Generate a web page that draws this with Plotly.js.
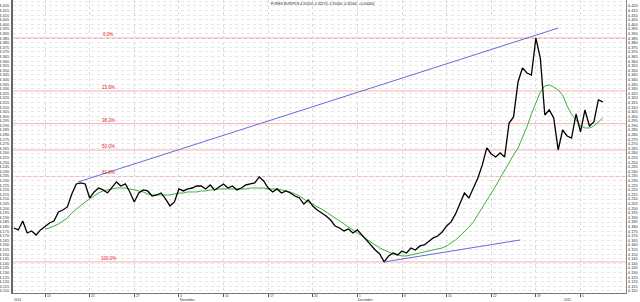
<!DOCTYPE html>
<html><head><meta charset="utf-8">
<script src="https://cdn.plot.ly/plotly-3.0.1.min.js"></script>
<style>html,body{margin:0;padding:0;background:#fff;}#chart{width:640px;height:302px;}</style>
</head><body><div id="chart"></div>
<script>
// Price series (half-day steps, trading days), EUR/PLN
const priceValues = [4.1785,4.1764,4.1861,4.1731,4.1753,4.1709,4.1764,
4.1807,4.1840,4.1861,4.1959,4.1981,4.2014,4.2155,4.2264,4.2275,4.2264,
4.2112,4.2177,4.2220,4.2199,4.2166,4.2220,4.2286,4.2242,4.2264,4.2177,
4.2068,4.2166,4.2199,4.2188,4.2133,4.2144,4.2166,4.2101,4.2025,4.2068,
4.2210,4.2188,4.2210,4.2220,4.2242,4.2242,4.2210,4.2253,4.2199,4.2231,
4.2264,4.2220,4.2242,4.2199,4.2220,4.2253,4.2264,4.2275,4.2340,4.2297,
4.2220,4.2177,4.2210,4.2166,4.2188,4.2166,4.2133,4.2112,4.2046,4.2090,
4.2025,4.1981,4.1949,4.1916,4.1872,4.1807,4.1785,4.1753,4.1774,4.1731,
4.1764,4.1709,4.1644,4.1590,4.1546,4.1503,4.1416,4.1481,4.1513,4.1492,
4.1535,4.1513,4.1568,4.1546,4.1590,4.1600,4.1644,4.1677,4.1698,4.1742,
4.1807,4.1851,4.1938,4.2057,4.2166,4.2112,4.2220,4.2329,4.2471,4.2656,
4.2590,4.2558,4.2601,4.2558,4.2927,4.2993,4.3373,4.3526,4.3471,4.3449,
4.3850,4.3634,4.3014,4.3069,4.2982,4.2634,4.2851,4.2786,4.2764,4.3025,
4.2830,4.3069,4.2895,4.2938,4.3178,4.3156];
// Moving average (starts 7 half-days later)
const maValues = [null,null,null,null,null,null,null,
4.1774,4.1785,4.1807,4.1829,4.1861,4.1894,4.1949,4.1992,4.2036,4.2068,
4.2101,4.2133,4.2166,4.2188,4.2199,4.2210,4.2220,4.2220,4.2220,4.2210,
4.2199,4.2188,4.2177,4.2155,4.2144,4.2144,4.2144,4.2144,4.2144,4.2155,
4.2166,4.2166,4.2177,4.2177,4.2177,4.2188,4.2188,4.2199,4.2199,4.2210,
4.2210,4.2210,4.2210,4.2210,4.2210,4.2210,4.2220,4.2220,4.2220,4.2220,
4.2210,4.2210,4.2210,4.2199,4.2188,4.2177,4.2155,4.2133,4.2101,4.2068,
4.2046,4.2014,4.1992,4.1959,4.1927,4.1894,4.1861,4.1829,4.1796,4.1764,
4.1731,4.1698,4.1666,4.1633,4.1600,4.1568,4.1546,4.1524,4.1503,4.1492,
4.1481,4.1481,4.1492,4.1503,4.1513,4.1524,4.1535,4.1546,4.1557,4.1568,
4.1590,4.1622,4.1655,4.1698,4.1742,4.1796,4.1851,4.1927,4.2003,4.2079,
4.2166,4.2242,4.2329,4.2416,4.2503,4.2579,4.2656,4.2764,4.2884,4.3025,
4.3145,4.3265,4.3330,4.3341,4.3319,4.3286,4.3232,4.3112,4.3025,4.2960,
4.2895,4.2873,4.2873,4.2895,4.2938,4.2982];
// Trend lines
const upperTrendX = ['2014-10-16 16:48','2014-12-31 12:00'];
const upperTrendY = [4.2286, 4.3960];
const lowerTrendX = ['2014-12-04 00:00','2014-12-25 06:00'];
const lowerTrendY = [4.1416, 4.1655];
// Fibonacci retracement
const fibHigh = 4.3850, fibLow = 4.1416;
const fibRatios = [0, 0.236, 0.382, 0.5, 0.618, 1.0];
const fibLabels = ['0.0%','23.6%','38.2%','50.0%','61.8%','100.0%'];
// X axis weekly ticks and labels
const weekTicks = ['2014-10-13','2014-10-20','2014-10-27','2014-11-03','2014-11-10','2014-11-17','2014-11-24','2014-12-01','2014-12-08','2014-12-15','2014-12-22','2014-12-29','2015-01-05'];
const weekLabels = ['13','20','27','3','10','17','24','1','8','15','22','29','5'];
const monthLabelX = ['2014-10-07 10:00','2014-11-03','2014-12-01','2015-01-01'];
const monthLabels = ['2014','November','December','2015'];
const titleText = 'FOREX EUR/PLN 4.31050; 4.32270; 4.31000; 4.31560; +0.00040)';

function tradingDates(startMs, n){
  const out=[]; let t=startMs;
  while(out.length<n){
    const d=new Date(t); const wd=d.getUTCDay();
    if(wd!==0 && wd!==6) out.push(d.toISOString().slice(0,16).replace('T',' '));
    t+=12*3600*1000;
  }
  return out;
}
const dates = tradingDates(Date.UTC(2014,9,7,12,0), priceValues.length);

const traces = [
  {x:dates,y:maValues,type:'scatter',mode:'lines',line:{color:'#3cb03c',width:1},hoverinfo:'skip',connectgaps:false},
  {x:dates,y:priceValues,type:'scatter',mode:'lines',line:{color:'#000',width:1.3}},
  {x:upperTrendX,y:upperTrendY,type:'scatter',mode:'lines',line:{color:'#6a6ad8',width:1}},
  {x:lowerTrendX,y:lowerTrendY,type:'scatter',mode:'lines',line:{color:'#6a6ad8',width:1}},
  {x:[dates[0]],y:[null],yaxis:'y2',type:'scatter',mode:'lines',hoverinfo:'skip'}
];

const yr=[4.1078,4.4265];
const shapes=[], annotations=[];
fibRatios.forEach((r,i)=>{
  const lv = fibHigh - r*(fibHigh-fibLow);
  shapes.push({type:'line',layer:'below',xref:'paper',x0:0,x1:1,yref:'y',y0:lv,y1:lv,line:{color:i===0?'#f08a8a':'#f6b0b0',width:1}});
  annotations.push({xref:'paper',x:0.155,yref:'y',y:lv,text:fibLabels[i],showarrow:false,yanchor:'bottom',xanchor:'center',borderpad:0,font:{size:4.5,color:'#e02020',family:'Arial, Liberation Sans'},yshift:0});
});
weekTicks.forEach((t,i)=>{
  annotations.push({xref:'x',x:t,yref:'paper',y:0,yanchor:'top',xanchor:'left',text:weekLabels[i],showarrow:false,borderpad:0,font:{size:3.2,color:'#333'},xshift:0.5,yshift:0});
});
monthLabelX.forEach((t,i)=>{
  annotations.push({xref:'x',x:t,yref:'paper',y:0,yanchor:'top',xanchor:'left',text:monthLabels[i],showarrow:false,borderpad:0,font:{size:3.2,color:'#333'},yshift:-4});
});
annotations.push({xref:'paper',x:0.505,yref:'paper',y:1,yanchor:'top',xanchor:'center',text:titleText,showarrow:false,borderpad:0,font:{size:3.5,color:'#222'},yshift:-1});

const layout={
  width:640,height:302,margin:{l:13,r:14,t:0,b:9},
  paper_bgcolor:'#fff',plot_bgcolor:'#fff',showlegend:false,
  font:{family:'Arial, Liberation Sans, sans-serif'},
  xaxis:{type:'date',range:['2014-10-07 09:50','2015-01-12 02:24'],
    rangebreaks:[{bounds:['sat','mon']}],
    tickvals:weekTicks,ticktext:weekTicks.map(()=>''),ticks:'outside',ticklen:3,tickcolor:'#555',
    showgrid:true,gridcolor:'#dadada',griddash:'dot',gridwidth:1,
    showline:true,linecolor:'#777',linewidth:1,mirror:true,zeroline:false,fixedrange:true},
  yaxis:{range:yr,dtick:0.005,tick0:4.11,tickformat:'.3f',side:'left',
    tickfont:{size:4,color:'#333'},ticks:'',ticklabelstandoff:1,
    showgrid:true,gridcolor:'#e6e6e6',griddash:'dot',gridwidth:1,
    showline:true,linecolor:'#666',linewidth:2,zeroline:false},
  yaxis2:{range:yr,dtick:0.005,tick0:4.11,tickformat:'.3f',side:'right',overlaying:'y',
    tickfont:{size:4,color:'#333'},ticks:'',showgrid:false,
    showline:true,linecolor:'#888',linewidth:1,zeroline:false},
  shapes:shapes,annotations:annotations
};
Plotly.newPlot('chart',traces,layout,{displayModeBar:false,staticPlot:true});
</script></body></html>
